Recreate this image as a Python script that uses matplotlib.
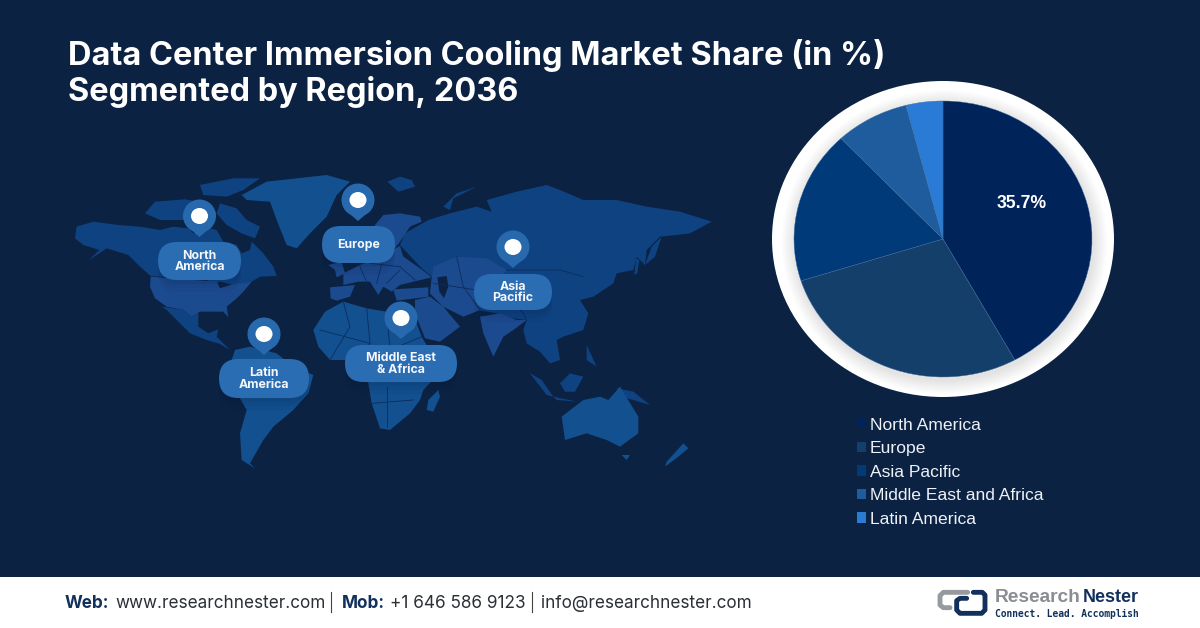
import matplotlib
matplotlib.use("Agg")
import matplotlib.pyplot as plt
from matplotlib.patches import Ellipse, FancyBboxPatch, Polygon, Rectangle

# ---------- chart data ----------
regions = ["North America", "Europe", "Asia Pacific", "Middle East and Africa", "Latin America"]
drawn_shares = [42.0, 28.1, 17.9, 8.0, 4.0]
slice_colors = ["#00235a", "#153f6b", "#013a78", "#1f5c9e", "#2a7bd6"]
printed_label = "35.7%"
title_lines = ["Data Center Immersion Cooling Market Share (in %)", "Segmented by Region, 2036"]

BG = "#0c2243"
LAND = "#0f4281"
LAND2 = "#1c4a8e"
LAND3 = "#12508f"
PILL = "#2a6db2"
PIN = "#2869ad"

# ---------- decorative map outlines, in the crop coordinates they were read from ----------
west = {
 "canada": [(45,205),(50,170),(100,155),(175,165),(240,170),(300,180),(340,170),(385,175),(400,190),(430,170),(470,180),(490,215),(530,225),(545,250),(570,240),(575,215),(610,250),(640,290),(650,318),(600,320),(575,335),(555,340),(520,345),(480,335),(460,345),(440,330),(272,318),(240,290),(205,255),(140,235),(85,272),(118,240),(70,225)],
 "usa": [(272,320),(470,335),(480,355),(510,345),(575,335),(550,365),(530,385),(500,410),(505,442),(490,425),(420,425),(395,440),(370,420),(320,410),(285,385),(270,350)],
 "mexico": [(305,410),(370,420),(395,440),(415,428),(415,470),(445,490),(475,478),(470,500),(510,540),(480,522),(440,510),(390,490),(345,445),(320,420)],
 "south": [(525,540),(570,530),(650,550),(700,590),(760,615),(745,670),(700,720),(640,770),(610,810),(570,880),(585,895),(545,870),(540,790),(560,720),(520,650),(505,600)],
 "greenland": [(545,75),(620,35),(800,15),(870,35),(830,75),(800,140),(750,190),(710,235),(680,225),(650,150),(630,95),(560,90)],
 "arctic1": [(420,45),(520,25),(600,25),(550,60),(500,80),(430,75)],
 "arctic2": [(255,130),(285,95),(375,88),(440,100),(470,130),(440,165),(370,150),(300,150)],
 "baffin": [(480,100),(530,115),(560,150),(600,170),(585,205),(545,190),(500,165),(470,130)],
}
east = {
 "asia": [(300,225),(315,190),(385,150),(450,130),(530,110),(575,125),(560,90),(650,65),(740,45),(780,60),(850,90),(950,90),(1040,110),(1140,125),(1235,155),(1170,190),(1130,195),(1080,200),(1040,240),(1035,285),(1010,260),(1000,300),(950,310),(940,340),(880,380),(840,390),(865,430),(850,480),(790,500),(770,510),(780,570),(750,580),(720,545),(680,520),(670,480),(680,450),(640,445),(590,430),(530,420),(430,410),(390,370),(395,320),(365,295)],
 "novaya": [(430,110),(470,70),(530,50),(460,85),(450,120)],
 "svalbard": [(262,35),(300,20),(335,30),(345,50),(295,65)],
 "japan": [(1035,285),(1055,230),(1085,200),(1065,260)],
 "sakhalin": [(1003,315),(1008,265),(1018,270),(1012,310)],
 "sumatra": [(690,610),(725,630),(760,680),(740,675)],
 "borneo": [(780,640),(810,610),(850,620),(825,665),(795,665)],
 "java": [(760,680),(830,695),(770,690)],
 "guinea": [(950,655),(1000,665),(1050,705),(1000,690),(960,680)],
 "phil": [(860,525),(890,590),(860,570)],
 "madagascar": [(385,690),(415,660),(420,680),(400,725),(380,720)],
 "australia": [(785,740),(850,690),(900,680),(925,690),(960,650),(1015,740),(1015,790),(960,830),(920,810),(860,790),(795,810)],
 "tasmania": [(965,855),(990,855),(980,870)],
 "nz": [(1150,820),(1165,835),(1135,860),(1095,890),(1100,875)],
 "africa": [(40,480),(75,425),(130,395),(200,415),(260,425),(335,420),(365,500),(400,560),(440,585),(370,660),(360,690),(330,730),(270,780),(240,775),(215,700),(205,640),(180,570),(90,570),(55,530)],
}
east2 = {
 "central": [(400,290),(470,260),(560,265),(620,300),(590,340),(530,360),(540,420),(490,440),(430,410),(390,370)],
 "india": [(540,440),(600,430),(650,450),(680,450),(640,480),(610,500),(580,560),(550,490)],
 "mideast": [(345,390),(390,380),(430,410),(480,470),(420,515),(375,505),(345,430)],
 "europe": [(180,285),(230,265),(300,228),(310,260),(360,295),(395,322),(340,335),(300,345),(275,365),(250,350),(235,375),(210,335),(175,335),(130,345),(130,310)],
 "scand": [(225,165),(250,135),(300,130),(360,140),(365,155),(330,170),(300,215),(285,235),(255,205),(240,230),(225,195)],
 "turkey": [(280,358),(385,352),(385,380),(290,392)],
 "iberia": [(90,352),(165,345),(150,380),(110,392),(92,385)],
 "britain": [(85,285),(125,275),(135,310),(110,322),(105,300)],
}
water = {
 "caspian": [(412,322),(440,318),(445,350),(432,385),(418,365)],
}
borders = [
 [(130,395),(150,470),(90,570)], [(200,415),(210,520),(180,570)], [(260,425),(270,540)],
 [(60,480),(210,520)], [(270,540),(365,500)], [(215,700),(340,690)], [(260,650),(260,770)],
 [(470,260),(490,350),(540,420)], [(400,340),(530,360)], [(620,300),(780,300),(850,320)],
 [(590,340),(670,430),(680,450)], [(210,280),(300,290)], [(250,265),(230,340)], [(180,290),(200,335)],
 [(300,300),(260,340)], [(345,330),(300,290)],
]

# pin and label placement, in pixels: text, pill box, pin centre
callouts = [
 ("North\nAmerica", (158,242,241,280), (199.5,216)),
 ("Europe", (322,226,395,263), (358,200)),
 ("Latin\nAmerica", (219,359,309,398), (264,334)),
 ("Asia\nPacific", (474,274,552,310), (513,247)),
 ("Middle East\n& Africa", (345,345,457,382), (401,318)),
]

# logo strokes, in the crop coordinates they were read from
logo_gray = [(128,37),(55,37),(45,47),(45,75),(55,83),(75,83)]
logo_navy = [(145,37),(172,37),(180,45),(180,90),(170,100),(105,100),(95,90),(95,62),(105,55),(125,55)]

# ---------- figure ----------
fig = plt.figure(figsize=(12, 6.28), dpi=100, facecolor=BG)
ax = fig.add_axes([0, 0, 1, 1])
ax.set_xlim(0, 1200); ax.set_ylim(628, 0); ax.axis("off")

def shift(points, dx, dy=170):
    return [(dx + x / 3, dy + y / 3) for x, y in points]

for name, pts in west.items():
    color = LAND2 if name == "usa" else (LAND3 if name in ("south", "greenland") else LAND)
    ax.add_patch(Polygon(shift(pts, 60), closed=True, fc=color, ec="none", zorder=1))
for name, pts in east.items():
    color = LAND3 if name in ("australia", "africa", "nz", "madagascar", "tasmania") else LAND
    ax.add_patch(Polygon(shift(pts, 300), closed=True, fc=color, ec="none", zorder=1))
for pts in east2.values():
    ax.add_patch(Polygon(shift(pts, 300), closed=True, fc=LAND2, ec="none", zorder=2))
for pts in water.values():
    ax.add_patch(Polygon(shift(pts, 300), closed=True, fc=BG, ec="none", zorder=2.5))
for line in borders:
    p = shift(line, 300)
    ax.plot([a for a, _ in p], [b for _, b in p], color="#0d2c5c", lw=0.6, zorder=3)

def pill(x0, y0, x1, y1, **kw):
    h = y1 - y0
    return FancyBboxPatch((x0 + h/2, y0 + h/2), x1 - x0 - h, 0.01,
                          boxstyle=f"round,pad={h/2},rounding_size={h/2}", ec="none", **kw)

for text, (x0, y0, x1, y1), (px, py) in callouts:
    for off, a in ((12, 0.04), (8, 0.05), (4, 0.07)):
        ax.add_patch(pill(x0, y0 + off, x1, y1 + off, fc="#07152c", alpha=a, zorder=4))
    ax.add_patch(pill(x0, y0, x1, y1, fc=PILL, zorder=5))
    ax.text((x0 + x1)/2, (y0 + y1)/2 + 0.5, text, ha="center", va="center", color="#f4f7fb",
            family="Inter", weight="bold", fontsize=8.9, linespacing=0.92, zorder=6)
    ax.add_patch(Polygon([(px - 13.4, py + 9.5), (px, py + 21), (px + 13.4, py + 9.5)], closed=True, fc=PIN, ec="none", zorder=5))
    ax.add_patch(Ellipse((px, py), 33, 33, fc=PIN, ec="none", zorder=5))
    ax.add_patch(Ellipse((px, py), 17, 16, fc="white", ec="none", zorder=6))

for y, line in zip((55, 92), title_lines):
    ax.text(68, y, line, ha="left", va="center", color="white", family="Inter", weight="bold", fontsize=23.4)

# white ring with the soft shadow under the pie
cx, cy, rx, ry = 943, 239, 149, 138
ax.add_patch(Ellipse((cx, cy), 2*171, 2*158, fc="white", ec="none", zorder=2))
for i in range(14):
    ax.add_patch(Ellipse((cx + 1.5, cy + 3), 2*(rx + 14 - i), 2*(ry + 14 - i), fc="black", ec="none", alpha=0.006, zorder=3))

# footer
ax.add_patch(Rectangle((0, 577), 1200, 51, fc="white", ec="none", zorder=2))
NAVY = "#12305c"; TXT = "#2b2f36"
footer_bits = [(65, "Web:", NAVY, "bold"), (115, "www.researchnester.com", TXT, "normal"),
               (342, "Mob:", NAVY, "bold"), (390, "+1 646 586 9123", TXT, "normal"),
               (541, "info@researchnester.com", TXT, "normal")]
for x, s, c, w in footer_bits:
    ax.text(x, 603.5, s, ha="left", va="center", color=c, weight=w, family="Inter", fontsize=12.35, zorder=3)
for x in (331, 532):
    ax.plot([x, x], [592, 612], color="#444444", lw=0.8, zorder=3)

# logo
for stroke, col in ((logo_gray, "#96999d"), (logo_navy, NAVY)):
    p = shift(stroke, 925, 580)
    ax.plot([a for a, _ in p], [b for _, b in p], color=col, lw=3.5, solid_capstyle="round",
            solid_joinstyle="round", zorder=3)
ax.text(995, 597, "Research", ha="left", va="center", color="#8a8d91", family="Liberation Sans", weight="bold", fontsize=13.8, zorder=3)
ax.text(1083, 597, "Nester", ha="left", va="center", color=NAVY, family="Liberation Sans", weight="bold", fontsize=13, zorder=3)
ax.text(995, 614, "Connect. Lead. Accomplish", ha="left", va="center", color=NAVY, family="DejaVu Sans Mono", weight="bold", fontsize=6.95, zorder=3)

# pie
pie_ax = fig.add_axes([(cx - rx)/1200, 1 - (cy + ry)/628, 2*rx/1200, 2*ry/628])
pie_ax.patch.set_alpha(0)
wedges, _ = pie_ax.pie(drawn_shares, colors=slice_colors, startangle=90, counterclock=False, radius=1,
                       wedgeprops={"linewidth": 0.3, "edgecolor": "#3d6a9c"})
pie_ax.set_aspect("auto"); pie_ax.set_xlim(-1, 1); pie_ax.set_ylim(-1, 1)
pie_ax.text(1022, 203, printed_label, transform=ax.transData, ha="center", va="center", color="white",
            family="Liberation Sans", weight="bold", fontsize=12.7)

leg = fig.legend(wedges, regions, loc="upper left", bbox_to_anchor=(857/1200, 1 - 417.5/628), frameon=False,
                 prop={"family": "Liberation Sans", "size": 12.6}, labelcolor="#eef2f7",
                 handlelength=0.52, handleheight=0.52, handletextpad=0.22, labelspacing=0.49,
                 borderpad=0, borderaxespad=0)
for h in leg.legend_handles:
    h.set_linewidth(0)

fig.savefig("out.png", dpi=100, facecolor=BG)
